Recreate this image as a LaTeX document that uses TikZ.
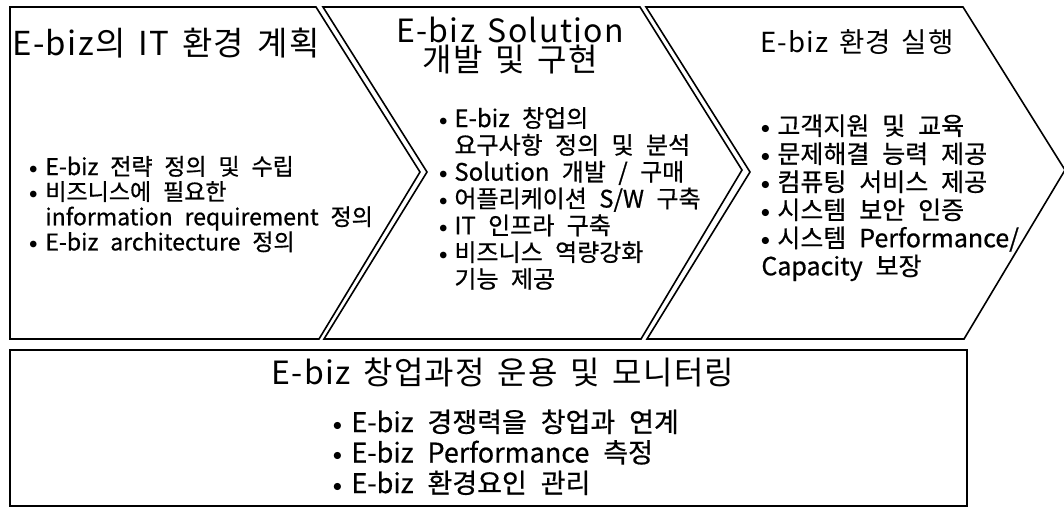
\documentclass[tikz,border=0pt]{standalone}
\usepackage{fontspec}
\setmainfont{Noto Sans CJK KR}
\newfontfamily\krtitle[LetterSpace=4,WordSpace=1.5]{Noto Sans CJK KR}
\newfontfamily\krlist[WordSpace=2.3,FakeBold=0.6]{Noto Sans CJK KR}
\newcommand\bul{\makebox[4pt]{\raisebox{.9pt}{$\scriptstyle\bullet$}}}
\tikzset{
  frame/.style={draw=black, line width=.8pt, line join=miter},
  title/.style={font=\krtitle\fontsize{16}{14.5}\selectfont, inner sep=0, align=center},
  list/.style={anchor=base west, inner sep=0},
}
\begin{document}
\begin{tikzpicture}[x=.5pt, y=-.5pt]
        \path[fill=white, use as bounding box] (0,0) rectangle (1064,511);
        % chevrons
        \draw[frame] (10,7) -- (316,7) -- (420,172) -- (319,339) -- (10,339) -- cycle;
        \foreach \x in {323,646}{
          \draw[frame] (\x,7) -- (\x+317,7) -- (\x+419,170) -- (\x+318,339)
            -- (\x+1,339) -- (\x+104,172) -- cycle;
        }
        \draw[frame] (10,350) rectangle (967,506);

        \node[title, anchor=west, font=\krtitle\fontsize{16.5}{14.5}\selectfont] (t1) at (12,43) {E-biz의 IT 환경 계획};
        \node[title] (t2) at (510,46) {E-biz Solution\\개발 및 구현};
        \node[title, font=\krtitle\fontsize{13.8}{14.5}\selectfont] (t3) at (857,42) {E-biz 환경 실행};
        \node[title] (t4) at (503,372) {E-biz 창업과정 운용 및 모니터링};

        \node[list, font=\krlist\fontsize{11.5}{10.2}\selectfont] (l1) at (29,175) {%
          \begin{tabular}[t]{@{}l@{\hspace{4pt}}l@{}}
          \bul & E-biz 전략 정의 및 수립\\
          \bul & 비즈니스에 필요한\\
               & information requirement 정의\\
          \bul & E-biz architecture 정의
          \end{tabular}};
        \node[list, font=\krlist\fontsize{12}{11.5}\selectfont] (l2) at (439,127) {%
          \begin{tabular}[t]{@{}l@{\hspace{3.5pt}}l@{}}
          \bul & E-biz 창업의\\
               & 요구사항 정의 및 분석\\
          \bul & Solution 개발 / 구매\\
          \bul & 어플리케이션 S/W 구축\\
          \bul & IT 인프라 구축\\
          \bul & 비즈니스 역량강화\\
               & 기능 제공
          \end{tabular}};
        \node[list, font=\krlist\fontsize{12.5}{12.3}\selectfont] (l3) at (761,135) {%
          \begin{tabular}[t]{@{}l@{\hspace{4pt}}l@{}}
          \bul & 고객지원 및 교육\\
          \bul & 문제해결 능력 제공\\
          \bul & 컴퓨팅 서비스 제공\\
          \bul & 시스템 보안 인증\\
          \bul & 시스템 Performance/\\
          \multicolumn{2}{@{}l@{}}{Capacity 보장}
          \end{tabular}};
        \node[list, font=\krlist\fontsize{13.5}{13.5}\selectfont] (l4) at (333,432) {%
          \begin{tabular}[t]{@{}l@{\hspace{5pt}}l@{}}
          \bul & E-biz 경쟁력을 창업과 연계\\
          \bul & E-biz Performance 측정\\
          \bul & E-biz 환경요인 관리
          \end{tabular}};

      \end{tikzpicture}
\end{document}
